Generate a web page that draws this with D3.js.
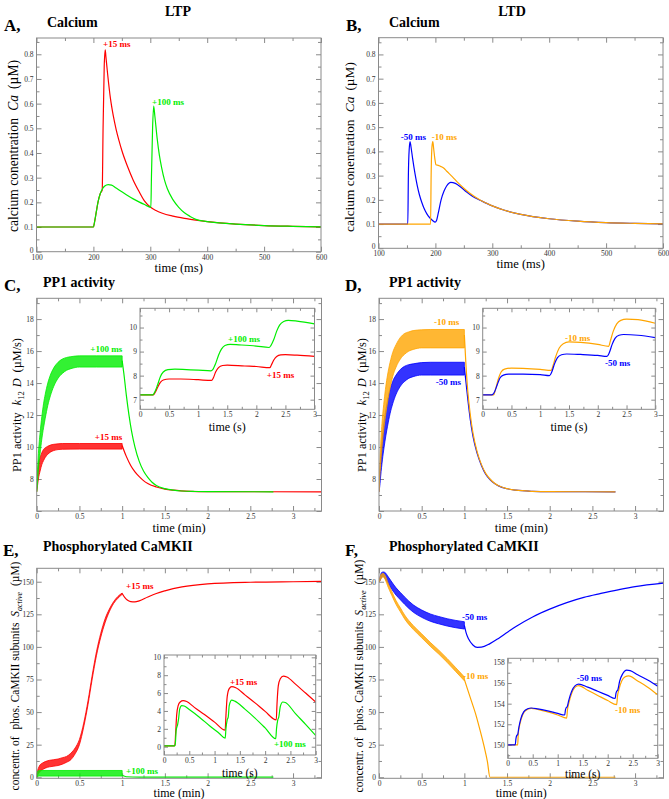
<!DOCTYPE html>
<html><head><meta charset="utf-8">
<script src="https://cdn.jsdelivr.net/npm/d3@7"></script>
<style>
body{margin:0;background:#fff}
svg{display:block;font-family:"Liberation Serif","Times New Roman",serif}
</style>
</head><body><script>
// ---------------- DATA ----------------
// Panel A: calcium, LTP (time ms, Ca uM)
const caA_plus15 = [[100,0.1],[200,0.1],[202,0.12],[205,0.16],[208,0.2],[212,0.235],[215.5,0.25],[217,0.5],[219,0.75],[220.8,0.818],[222,0.79],[225,0.72],[230,0.62],[235,0.55],[240,0.495],[245,0.45],[250,0.41],[260,0.345],[270,0.29],[280,0.245],[290,0.205],[300,0.181],[310,0.167],[320,0.157],[340,0.144],[360,0.135],[380,0.128],[400,0.122],[450,0.112],[500,0.106],[550,0.103],[600,0.101]];
const caA_plus100 = [[100,0.1],[200,0.1],[202,0.12],[205,0.16],[208,0.2],[212,0.235],[216,0.255],[220,0.266],[226,0.272],[232,0.27],[240,0.258],[250,0.243],[260,0.228],[270,0.214],[280,0.202],[290,0.191],[301,0.18],[302,0.3],[304,0.5],[306,0.59],[308,0.55],[312,0.46],[316,0.39],[320,0.34],[325,0.29],[330,0.255],[340,0.21],[350,0.18],[360,0.158],[370,0.143],[380,0.131],[400,0.122],[450,0.112],[500,0.106],[550,0.103],[600,0.101]];
// Panel B: calcium, LTD
const caB_minus50 = [[100,0.1],[151.5,0.1],[152.5,0.3],[154,0.41],[155.5,0.44],[157,0.42],[160,0.37],[164,0.31],[168,0.26],[172,0.22],[176,0.19],[180,0.165],[185,0.142],[190,0.126],[195,0.115],[199.5,0.108],[202,0.115],[205,0.145],[210,0.2],[215,0.235],[220,0.258],[227,0.272],[235,0.268],[245,0.252],[255,0.232],[265,0.215],[280,0.197],[300,0.175],[320,0.158],[350,0.14],[400,0.122],[450,0.112],[500,0.106],[550,0.103],[600,0.101]];
const caB_minus10 = [[100,0.1],[191.5,0.1],[192.5,0.3],[194,0.42],[195.5,0.44],[197,0.41],[199,0.37],[201,0.345],[205,0.342],[210,0.337],[215,0.33],[220,0.318],[230,0.295],[240,0.27],[250,0.248],[260,0.228],[280,0.197],[300,0.175],[320,0.158],[350,0.14],[400,0.122],[450,0.112],[500,0.106],[550,0.103],[600,0.101]];

// Panel C: PP1 activity LTP (time min) ; bands = [t, low, high] during 1 Hz pairing
const pp1C_plus100_band = [[0,7.2,7.2],[0.01,7.8,8.6],[0.02,8.6,9.6],[0.04,9.6,10.9],[0.06,10.5,11.9],[0.08,11.2,12.7],[0.1,11.8,13.3],[0.13,12.6,14.0],[0.16,13.2,14.5],[0.2,13.8,14.95],[0.25,14.3,15.3],[0.3,14.6,15.5],[0.35,14.8,15.6],[0.4,14.9,15.65],[0.5,15.0,15.7],[0.7,15.0,15.7],[1.0,15.0,15.7]];
const pp1C_plus100_tail = [[1.0,15.4],[1.02,14.6],[1.05,13.2],[1.08,12.0],[1.11,11.0],[1.15,10.0],[1.2,9.1],[1.25,8.5],[1.3,8.1],[1.35,7.8],[1.4,7.6],[1.5,7.4],[1.6,7.3],[1.7,7.25],[1.85,7.22],[2.0,7.21],[2.77,7.2]];
const pp1C_plus15_band = [[0,7.2,7.2],[0.01,7.6,8.4],[0.02,8.0,8.9],[0.04,8.5,9.35],[0.06,8.9,9.65],[0.08,9.15,9.85],[0.1,9.35,9.95],[0.13,9.55,10.05],[0.16,9.68,10.12],[0.2,9.78,10.17],[0.25,9.84,10.2],[0.3,9.86,10.22],[0.5,9.87,10.22],[1.0,9.87,10.22]];
const pp1C_plus15_tail = [[1.0,10.1],[1.02,9.8],[1.05,9.4],[1.1,8.85],[1.15,8.45],[1.2,8.15],[1.25,7.9],[1.3,7.72],[1.4,7.5],[1.5,7.37],[1.6,7.3],[1.8,7.23],[2.0,7.21],[3.333,7.2]];
// inset C (time s)
const pp1Cin_plus100 = [[0,7.2],[0.22,7.2],[0.26,7.35],[0.3,7.6],[0.35,7.95],[0.4,8.15],[0.48,8.25],[0.6,8.27],[0.8,8.25],[1.0,8.23],[1.22,8.2],[1.25,8.25],[1.3,8.5],[1.35,8.85],[1.4,9.1],[1.46,9.25],[1.55,9.3],[1.7,9.28],[2.0,9.23],[2.22,9.17],[2.25,9.25],[2.3,9.5],[2.35,9.85],[2.4,10.1],[2.47,10.25],[2.55,10.3],[2.7,10.27],[3.0,10.15]];
const pp1Cin_plus15 = [[0,7.2],[0.23,7.2],[0.26,7.3],[0.3,7.5],[0.35,7.72],[0.4,7.82],[0.5,7.86],[0.7,7.86],[1.0,7.83],[1.23,7.8],[1.26,7.9],[1.3,8.15],[1.35,8.33],[1.42,8.42],[1.5,8.44],[1.8,8.4],[2.0,8.38],[2.23,8.33],[2.26,8.45],[2.3,8.65],[2.35,8.8],[2.42,8.86],[2.5,8.87],[2.7,8.85],[3.0,8.8]];

// Panel D: PP1 activity LTD
const pp1D_minus10_band = [[0,7.2,7.2],[0.01,8.2,9.0],[0.02,9.0,10.2],[0.04,10.3,11.8],[0.06,11.3,12.9],[0.08,12.1,13.8],[0.1,12.8,14.5],[0.13,13.7,15.3],[0.16,14.4,15.9],[0.2,15.0,16.4],[0.25,15.5,16.85],[0.3,15.8,17.1],[0.35,16.0,17.2],[0.4,16.1,17.28],[0.5,16.2,17.33],[0.6,16.2,17.35],[1.0,16.2,17.35]];
const pp1D_minus10_tail = [[1.0,17.0],[1.02,15.0],[1.04,13.5],[1.07,12.0],[1.1,10.9],[1.15,9.7],[1.2,8.9],[1.25,8.35],[1.3,8.0],[1.35,7.75],[1.4,7.58],[1.5,7.4],[1.6,7.3],[1.8,7.23],[2.0,7.21],[2.77,7.2]];
const pp1D_minus50_band = [[0,7.2,7.2],[0.01,7.6,8.4],[0.02,8.2,9.3],[0.04,9.2,10.6],[0.06,10.0,11.6],[0.08,10.7,12.3],[0.1,11.3,12.9],[0.13,12.1,13.6],[0.16,12.7,14.1],[0.2,13.3,14.5],[0.25,13.8,14.85],[0.3,14.1,15.05],[0.35,14.3,15.15],[0.4,14.4,15.2],[0.5,14.5,15.28],[0.6,14.5,15.3],[1.0,14.5,15.3]];
const pp1D_minus50_tail = [[1.0,15.0],[1.02,14.0],[1.04,13.0],[1.07,11.7],[1.1,10.7],[1.15,9.6],[1.2,8.85],[1.25,8.3],[1.3,7.97],[1.35,7.73],[1.4,7.57],[1.5,7.39],[1.6,7.3],[1.8,7.23],[2.0,7.21],[2.77,7.2]];
// inset D
const pp1Din_minus10 = [[0,7.2],[0.19,7.2],[0.22,7.4],[0.27,7.85],[0.32,8.15],[0.38,8.27],[0.5,8.31],[0.7,8.3],[1.0,8.26],[1.19,8.22],[1.22,8.4],[1.27,8.8],[1.33,9.15],[1.4,9.33],[1.5,9.4],[1.7,9.38],[2.0,9.3],[2.19,9.22],[2.22,9.45],[2.27,9.85],[2.33,10.15],[2.4,10.3],[2.5,10.35],[2.7,10.33],[3.0,10.18]];
const pp1Din_minus50 = [[0,7.2],[0.16,7.2],[0.2,7.3],[0.25,7.6],[0.3,7.9],[0.36,8.02],[0.45,8.06],[0.7,8.06],[1.0,8.04],[1.16,8.0],[1.2,8.15],[1.25,8.5],[1.3,8.75],[1.37,8.87],[1.46,8.9],[1.7,8.88],[2.0,8.84],[2.16,8.8],[2.2,8.95],[2.25,9.3],[2.3,9.55],[2.37,9.68],[2.45,9.71],[2.7,9.68],[3.0,9.58]];

// Panel E: phosphorylated CaMKII, LTP
const ckE_plus15_band = [[0,0,0],[0.01,1.5,5],[0.02,3,7],[0.04,4.5,9.5],[0.07,6,11],[0.1,7,12],[0.15,8,13],[0.2,8.5,13.5],[0.25,9,14],[0.3,10,15],[0.35,11.5,16],[0.4,13.5,18.5],[0.45,18,22.5],[0.5,25,29],[0.55,38.5,41.5],[0.6,55.5,58.5],[0.65,75.5,78.5],[0.7,93.5,96.5],[0.75,107.5,110.5],[0.8,118.5,121.5],[0.85,127,129],[0.9,133.3,134.7],[0.95,137.3,138.7],[1.0,140.3,141.3]];
const ckE_plus15_tail = [[1.0,141],[1.03,138],[1.06,136],[1.1,134.8],[1.15,134.5],[1.2,135.3],[1.3,138.3],[1.4,141],[1.5,143],[1.7,146],[2.0,148.3],[2.5,149.6],[3.0,150],[3.333,150.2]];
const ckE_plus100_band = [[0,0,0],[0.01,0.5,4.5],[0.03,0.9,5.2],[1.0,0.9,5.2]];
const ckE_plus100_tail = [[1.0,1.5],[1.05,0.4],[1.2,0.1],[2.77,0.05]];
// inset E
const ckEin_plus15 = [[0,0.1],[0.2,0.1],[0.215,0.15],[0.23,1.5],[0.25,3.5],[0.28,4.6],[0.32,5.0],[0.38,5.15],[0.45,5.05],[0.6,4.4],[0.8,3.6],[1.0,2.75],[1.21,1.85],[1.225,3.5],[1.25,5.6],[1.29,6.5],[1.34,6.72],[1.42,6.6],[1.6,5.8],[1.8,4.9],[2.0,3.95],[2.22,3.0],[2.235,4.8],[2.26,6.8],[2.3,7.6],[2.36,7.9],[2.43,7.8],[2.6,7.0],[2.8,6.0],[3.0,5.0]];
const ckEin_plus100 = [[0,0.1],[0.21,0.1],[0.225,0.4],[0.24,1.8],[0.27,2.5],[0.29,3.2],[0.31,4.2],[0.35,4.6],[0.4,4.55],[0.5,4.15],[0.7,3.3],[0.9,2.35],[1.1,1.45],[1.21,0.95],[1.225,2.0],[1.25,3.0],[1.27,3.3],[1.29,4.6],[1.34,5.2],[1.4,5.1],[1.6,4.2],[1.8,3.2],[2.0,2.1],[2.21,0.9],[2.225,2.0],[2.25,3.0],[2.27,3.3],[2.3,4.5],[2.35,5.0],[2.4,4.95],[2.6,3.7],[2.8,2.5],[3.0,1.25]];

// Panel F: phosphorylated CaMKII, LTD
const ckF_minus50_band = [[0,150,150],[0.01,150.5,153],[0.03,153.5,157],[0.05,154,157.5],[0.08,151.5,156.5],[0.1,149.5,154.5],[0.15,144.2,149.8],[0.2,139.7,145.3],[0.25,136.2,141.8],[0.3,132.7,138.3],[0.4,126.7,132.3],[0.5,122.7,128.3],[0.6,119.7,125.3],[0.7,117.7,123.3],[0.8,116,121.6],[0.9,114.7,120.3],[1.0,113.7,119.3]];
const ckF_minus50_tail = [[1.0,116.5],[1.02,111],[1.05,106],[1.1,101.5],[1.15,99.7],[1.2,99.8],[1.3,102.5],[1.4,106.5],[1.5,111],[1.6,115.5],[1.8,123],[2.0,129],[2.2,134],[2.4,138],[2.6,141],[2.8,143.8],[3.0,146.3],[3.333,149]];
const ckF_minus10_band = [[0,150,150],[0.01,150.5,153],[0.03,153,156],[0.05,153.7,156.3],[0.08,150.5,153.5],[0.1,147,150],[0.15,139.5,142.5],[0.2,132.5,135.5],[0.25,127,130],[0.3,121.5,124.5],[0.4,113.5,116.5],[0.5,107,110],[0.6,100.5,103.5],[0.7,94.5,97.5],[0.8,88,91],[0.9,81,84],[1.0,74,77]];
const ckF_minus10_tail = [[1.0,75],[1.03,69],[1.08,59],[1.13,49],[1.18,37],[1.23,24],[1.27,12],[1.3,0],[2.77,0]];
// inset F
const ckFin_minus50 = [[0,150],[0.15,150],[0.165,150.6],[0.18,150.9],[0.2,151.0],[0.22,151.6],[0.26,152.5],[0.32,153.2],[0.4,153.5],[0.47,153.58],[0.6,153.5],[0.8,153.3],[1.0,153.05],[1.14,152.9],[1.155,153.4],[1.17,153.6],[1.19,153.7],[1.22,154.3],[1.28,155.2],[1.35,155.75],[1.42,155.9],[1.6,155.6],[1.8,155.2],[2.0,154.8],[2.15,154.5],[2.165,155.0],[2.18,155.2],[2.2,155.3],[2.24,156.2],[2.3,156.9],[2.38,157.25],[2.45,157.2],[2.6,156.8],[2.8,156.3],[3.0,155.7]];
const ckFin_minus10 = [[0,150],[0.2,150],[0.21,151.0],[0.23,151.7],[0.27,152.5],[0.33,153.2],[0.4,153.45],[0.47,153.55],[0.6,153.45],[0.8,153.2],[1.0,152.9],[1.18,152.6],[1.195,153.4],[1.22,154.0],[1.28,155.0],[1.35,155.6],[1.42,155.75],[1.6,155.3],[1.8,154.8],[2.0,154.3],[2.18,153.9],[2.195,154.7],[2.22,155.3],[2.28,156.2],[2.35,156.6],[2.42,156.7],[2.6,156.2],[2.8,155.6],[3.0,154.85]];

// tick values
const ticksMs = [100,200,300,400,500,600];
const ticksMsMinor = [150,250,350,450,550];
const ticksCa = [0,0.1,0.2,0.3,0.4,0.5,0.6,0.7,0.8];
const ticksCaMinor = [0.05,0.15,0.25,0.35,0.45,0.55,0.65,0.75,0.85];
const ticksMin = [0,0.5,1,1.5,2,2.5,3];
const ticksMinMinor = [0.25,0.75,1.25,1.75,2.25,2.75,3.25];
const ticksSec = [0,0.5,1,1.5,2,2.5,3];
const ticksSecMinor = [0.25,0.75,1.25,1.75,2.25,2.75];
const ticksPP1 = [6,8,10,12,14,16,18];
const ticksPP1Minor = [7,9,11,13,15,17,19];
const ticksPP1in = [7,8,9,10];
const ticksPP1inMinor = [7.5,8.5,9.5,10.5];
const ticksCK = [0,25,50,75,100,125,150];
const ticksCKMinor = [12.5,37.5,62.5,87.5,112.5,137.5];
const ticksCKEin = [0,2,4,6,8,10];
const ticksCKEinMinor = [1,3,5,7,9];
const ticksCKFin = [150,152,154,156,158];
const ticksCKFinMinor = [149,151,153,155,157];

// ---------------- DRAWING ----------------
const RED='#ff0000', GREEN='#00ee00', BLUE='#0000ff', ORANGE='#ffa500';
const FRAME='#8a8a8a', TICKLBL='#333';
const SERIF='"Liberation Serif","Times New Roman",serif';
const svg = d3.select('body').append('svg').attr('width',669).attr('height',799);
let clipN=0;
const num = d => String(+d.toFixed(2));

function makePanel(p){
  const g = svg.append('g');
  const x = d3.scaleLinear().domain(p.xd).range([p.x0,p.x1]);
  const y = d3.scaleLinear().domain(p.yd).range([p.y1,p.y0]);
  if(p.bg) g.append('rect').attr('x',p.x0).attr('y',p.y0).attr('width',p.x1-p.x0).attr('height',p.y1-p.y0).attr('fill','#fff');
  const id='clip'+(clipN++);
  svg.append('clipPath').attr('id',id).append('rect').attr('x',p.x0).attr('y',p.y0).attr('width',p.x1-p.x0).attr('height',p.y1-p.y0);
  const tl=p.tl||5, tm=p.tm||3, fs=p.fs||7.5;
  const ax=(axis,tr)=>{
    const a=g.append('g').attr('transform',tr).call(axis);
    a.attr('font-family',SERIF);
    a.select('.domain').remove();
    a.selectAll('line').attr('stroke',FRAME);
    a.selectAll('text').attr('fill',TICKLBL).attr('font-size',fs);
    return a;
  };
  const xf = p.xFmt||num, yf=p.yFmt||num;
  ax(d3.axisBottom(x).tickValues(p.xMaj).tickSize(-tl).tickSizeOuter(0).tickPadding(2.5).tickFormat(xf),`translate(0,${p.y1})`);
  ax(d3.axisBottom(x).tickValues(p.xMin).tickSize(-tm).tickSizeOuter(0).tickFormat(''),`translate(0,${p.y1})`);
  ax(d3.axisTop(x).tickValues(p.xMaj).tickSize(-tl).tickSizeOuter(0).tickFormat(''),`translate(0,${p.y0})`);
  ax(d3.axisTop(x).tickValues(p.xMin).tickSize(-tm).tickSizeOuter(0).tickFormat(''),`translate(0,${p.y0})`);
  const yl = ax(d3.axisLeft(y).tickValues(p.yMaj).tickSize(-tl).tickSizeOuter(0).tickPadding(3).tickFormat(yf),`translate(${p.x0},0)`);
  if(p.liftZero) yl.selectAll('text').filter(d=>d===p.yd[0]||d===0).attr('dy','0.05em');
  ax(d3.axisLeft(y).tickValues(p.yMin).tickSize(-tm).tickSizeOuter(0).tickFormat(''),`translate(${p.x0},0)`);
  ax(d3.axisRight(y).tickValues(p.yMaj).tickSize(-tl).tickSizeOuter(0).tickFormat(''),`translate(${p.x1},0)`);
  ax(d3.axisRight(y).tickValues(p.yMin).tickSize(-tm).tickSizeOuter(0).tickFormat(''),`translate(${p.x1},0)`);
  const plot = g.append('g').attr('clip-path',`url(#${id})`);
  g.append('rect').attr('x',p.x0).attr('y',p.y0).attr('width',p.x1-p.x0).attr('height',p.y1-p.y0).attr('fill','none').attr('stroke',FRAME).attr('stroke-width',1);
  return {x,y,plot,g,p};
}
function line(P,data,color,w){
  P.plot.append('path').datum(data).attr('fill','none').attr('stroke',color).attr('stroke-width',w||1.2)
    .attr('d',d3.line().x(d=>P.x(d[0])).y(d=>P.y(d[1])).curve(d3.curveMonotoneX));
}
function band(P,data,color){
  P.plot.append('path').datum(data).attr('fill',color).attr('fill-opacity',0.8).attr('stroke',color).attr('stroke-width',0.8)
    .attr('d',d3.area().x(d=>P.x(d[0])).y0(d=>P.y(d[1])).y1(d=>P.y(d[2])).curve(d3.curveMonotoneX));
}
function lab(P,text,xv,yv,color,anchor){
  P.g.append('text').attr('x',P.x(xv)).attr('y',P.y(yv)).attr('fill',color).attr('font-weight','bold')
    .attr('font-size',9).attr('text-anchor',anchor||'start').text(text);
}
function xTitle(P,text,yPix,fs){
  svg.append('text').attr('x',(P.p.x0+P.p.x1)/2).attr('y',yPix).attr('text-anchor','middle').attr('font-size',fs||13).text(text);
}
function yTitle(xPix,yPix,len,build){
  const t=svg.append('text').attr('transform',`translate(${xPix},${yPix}) rotate(-90)`).attr('text-anchor','middle').attr('font-size',12);
  build(t);
  const L=t.node().getComputedTextLength();
  if(L>0) t.attr('font-size',12*len/L);
}
function heading(x,y,text,fs,anchor){
  svg.append('text').attr('x',x).attr('y',y).attr('font-weight','bold').attr('font-size',fs).attr('text-anchor',anchor||'start').text(text);
}

// column headings
heading(178,16,'LTP',14,'middle');
heading(512,16,'LTD',14,'middle');

// ---- Panel A
const fmtCa = d=> d===0?'0':d3.format('.1f')(d);
const A = makePanel({x0:36.5,x1:321,y0:38,y1:251.7,xd:[100,600],yd:[0,0.866],xMaj:ticksMs,xMin:ticksMsMinor,yMaj:ticksCa,yMin:ticksCaMinor,yFmt:fmtCa,liftZero:true});
line(A,caA_plus15,RED); line(A,caA_plus100,GREEN);
lab(A,'+15 ms',217,0.83,RED); lab(A,'+100 ms',303,0.594,GREEN);
heading(4,31,'A,',17); heading(47,27,'Calcium',14);
xTitle(A,'time (ms)',272,12.5);
yTitle(18,146,162,t=>{t.append('tspan').text('calcium conentration ');t.append('tspan').attr('dx',4).attr('font-style','italic').text('Ca');t.append('tspan').attr('dx',6).text('(µM)');});

// ---- Panel B
const B = makePanel({x0:378.5,x1:663,y0:37.7,y1:248.3,xd:[100,600],yd:[0,0.869],xMaj:ticksMs,xMin:ticksMsMinor,yMaj:ticksCa,yMin:ticksCaMinor,yFmt:fmtCa,liftZero:true});
line(B,caB_minus50,BLUE); line(B,caB_minus10,ORANGE);
lab(B,'-50 ms',139,0.445,BLUE); lab(B,'-10 ms',193.7,0.445,ORANGE);
heading(346,31,'B,',17); heading(389,27,'Calcium',14);
xTitle(B,'time (ms)',268,12.5);
yTitle(354,147,160,t=>{t.append('tspan').text('calcium conentration ');t.append('tspan').attr('dx',4).attr('font-style','italic').text('Ca');t.append('tspan').attr('dx',6).text('(µM)');});

// ---- Panel C
const pp1Fmt = d=> d===6?'':String(d);
const C = makePanel({x0:36.7,x1:321.5,y0:298.3,y1:511,xd:[0,3.333],yd:[6,19.3],xMaj:ticksMin,xMin:ticksMinMinor,yMaj:ticksPP1,yMin:ticksPP1Minor,yFmt:pp1Fmt});
band(C,pp1C_plus15_band,RED); line(C,pp1C_plus15_tail,RED);
band(C,pp1C_plus100_band,GREEN); line(C,pp1C_plus100_tail,GREEN);
lab(C,'+100 ms',1.0,15.94,GREEN,'end'); lab(C,'+15 ms',1.0,10.44,RED,'end');
heading(4,291,'C,',17); heading(43,287,'PP1 activity',14);
xTitle(C,'time (min)',532,12.5);
const pp1Title = t=>{t.append('tspan').text('PP1 activity ');t.append('tspan').attr('dx',4).attr('font-style','italic').text('k');t.append('tspan').attr('font-size','0.7em').attr('dy',3).text('12');t.append('tspan').attr('dy',-3).attr('dx',4).attr('font-style','italic').text('D');t.append('tspan').attr('dx',6).text('(µM/s)');};
yTitle(21,405,120,pp1Title);
const Ci = makePanel({x0:140,x1:314.5,y0:308.3,y1:409.3,xd:[0,3],yd:[6.6,10.8],xMaj:ticksSec,xMin:ticksSecMinor,yMaj:ticksPP1in,yMin:ticksPP1inMinor,bg:true,tl:4,tm:2.5});
line(Ci,pp1Cin_plus15,RED); line(Ci,pp1Cin_plus100,GREEN);
lab(Ci,'+100 ms',1.513,9.4,GREEN); lab(Ci,'+15 ms',2.18,7.9,RED);
xTitle(Ci,'time (s)',431,12);

// ---- Panel D
const D = makePanel({x0:379,x1:663.5,y0:298.3,y1:511,xd:[0,3.333],yd:[6,19.3],xMaj:ticksMin,xMin:ticksMinMinor,yMaj:ticksPP1,yMin:ticksPP1Minor,yFmt:pp1Fmt});
band(D,pp1D_minus50_band,BLUE); line(D,pp1D_minus50_tail,BLUE);
band(D,pp1D_minus10_band,ORANGE); line(D,pp1D_minus10_tail,ORANGE);
lab(D,'-10 ms',0.645,17.6,ORANGE); lab(D,'-50 ms',0.665,13.85,BLUE);
heading(345,291,'D,',17); heading(389,287,'PP1 activity',14);
xTitle(D,'time (min)',532,12.5);
yTitle(366,405,120,pp1Title);
const Di = makePanel({x0:482.7,x1:655.3,y0:308.3,y1:409.3,xd:[0,3],yd:[6.6,10.8],xMaj:ticksSec,xMin:ticksSecMinor,yMaj:ticksPP1in,yMin:ticksPP1inMinor,bg:true,tl:4,tm:2.5});
line(Di,pp1Din_minus10,ORANGE); line(Di,pp1Din_minus50,BLUE);
lab(Di,'-10 ms',1.43,9.44,ORANGE); lab(Di,'-50 ms',2.126,8.4,BLUE);
xTitle(Di,'time (s)',431,12);

// ---- Panel E
const ckTitle = t=>{t.append('tspan').text('concentr. of ');t.append('tspan').attr('dx',4).text('phos. CaMKII subunits ');t.append('tspan').attr('dx',3).attr('font-style','italic').text('S');t.append('tspan').attr('font-style','italic').attr('font-size','0.7em').attr('dy',3).text('active');t.append('tspan').attr('dy',-3).attr('dx',6).text('(µM)');};
const E = makePanel({x0:36.7,x1:321.5,y0:568.3,y1:778.3,xd:[0,3.333],yd:[-0.8,160.3],xMaj:ticksMin,xMin:ticksMinMinor,yMaj:ticksCK,yMin:ticksCKMinor});
band(E,ckE_plus15_band,RED); line(E,ckE_plus15_tail,RED);
band(E,ckE_plus100_band,GREEN); line(E,ckE_plus100_tail,GREEN);
lab(E,'+15 ms',1.046,144.4,RED); lab(E,'+100 ms',1.046,2.7,GREEN);
heading(3,556,'E,',17); heading(43,551,'Phosphorylated CaMKII',14);
xTitle(E,'time (min)',797,12);
yTitle(19,676,216,ckTitle);
const Ei = makePanel({x0:164,x1:315.7,y0:655,y1:755,xd:[0,3],yd:[-0.93,10.26],xMaj:ticksSec,xMin:ticksSecMinor,yMaj:ticksCKEin,yMin:ticksCKEinMinor,bg:true,tl:4,tm:2.5});
line(Ei,ckEin_plus15,RED); line(Ei,ckEin_plus100,GREEN);
lab(Ei,'+15 ms',1.305,6.94,RED); lab(Ei,'+100 ms',2.175,-0.07,GREEN);
xTitle(Ei,'time (s)',776.5,11.5);

// ---- Panel F
const F = makePanel({x0:379,x1:663.5,y0:568.3,y1:778.3,xd:[0,3.333],yd:[-0.8,160.3],xMaj:ticksMin,xMin:ticksMinMinor,yMaj:ticksCK,yMin:ticksCKMinor});
band(F,ckF_minus50_band,BLUE); line(F,ckF_minus50_tail,BLUE);
band(F,ckF_minus10_band,ORANGE); line(F,ckF_minus10_tail,ORANGE);
lab(F,'-50 ms',0.973,120.4,BLUE); lab(F,'-10 ms',0.985,75.6,ORANGE);
heading(345,556,'F,',17); heading(389,551,'Phosphorylated CaMKII',14);
xTitle(F,'time (min)',797,12);
yTitle(363,676,220,ckTitle);
const Fi = makePanel({x0:507.7,x1:657.7,y0:658.3,y1:758.3,xd:[0,3],yd:[148.7,158.4],xMaj:ticksSec,xMin:ticksSecMinor,yMaj:ticksCKFin,yMin:ticksCKFinMinor,bg:true,tl:4,tm:2.5});
line(Fi,ckFin_minus10,ORANGE); line(Fi,ckFin_minus50,BLUE);
lab(Fi,'-50 ms',1.38,156.17,BLUE); lab(Fi,'-10 ms',2.146,153.09,ORANGE);
xTitle(Fi,'time (s)',777.5,11.5);
</script></body></html>
